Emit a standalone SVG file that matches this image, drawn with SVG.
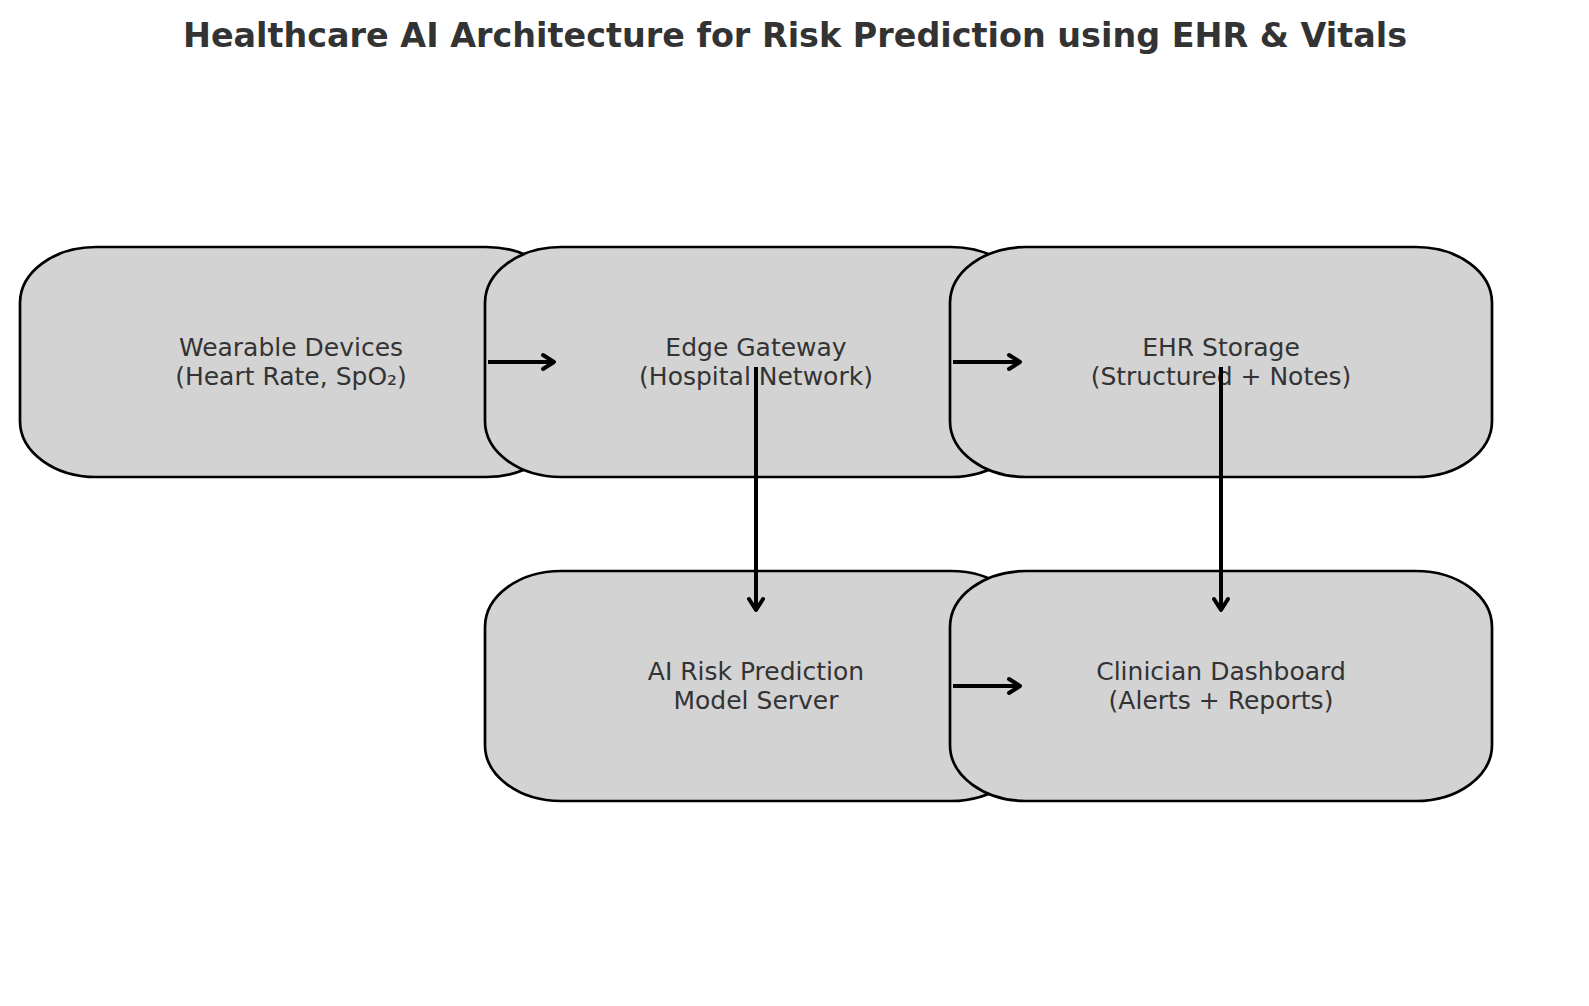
<svg xmlns="http://www.w3.org/2000/svg" width="1589" height="1006" viewBox="0 0 1589 1006">
<style>
.box{fill:#d3d3d3;stroke:#000;stroke-width:2.7}
.lbl{font-family:"DejaVu Sans",sans-serif;font-size:25px;fill:#333;text-anchor:middle}
.title{font-family:"DejaVu Sans",sans-serif;font-size:33.4px;font-weight:bold;fill:#333;text-anchor:middle}
.arr{stroke:#000;stroke-width:4;fill:none}
.head{stroke:#000;stroke-width:4;fill:none;stroke-linecap:round;stroke-linejoin:round}
</style>
<rect width="1589" height="1006" fill="#fff"/>
<text class="title" x="795" y="47">Healthcare AI Architecture for Risk Prediction using EHR &amp; Vitals</text>
<g id="wearable">
<rect class="box" x="20" y="247" width="542" height="230" rx="76" ry="56"/>
<text class="lbl" x="291" y="356">Wearable Devices</text>
<text class="lbl" x="291" y="384.5">(Heart Rate, SpO₂)</text>
</g>
<g id="gateway">
<rect class="box" x="485" y="247" width="542" height="230" rx="76" ry="56"/>
<text class="lbl" x="756" y="356">Edge Gateway</text>
<text class="lbl" x="756" y="384.5">(Hospital Network)</text>
</g>
<g id="ehr">
<rect class="box" x="950" y="247" width="542" height="230" rx="76" ry="56"/>
<text class="lbl" x="1221" y="356">EHR Storage</text>
<text class="lbl" x="1221" y="384.5">(Structured + Notes)</text>
</g>
<g id="model">
<rect class="box" x="485" y="571" width="542" height="230" rx="76" ry="56"/>
<text class="lbl" x="756" y="680">AI Risk Prediction</text>
<text class="lbl" x="756" y="708.5">Model Server</text>
</g>
<g id="dashboard">
<rect class="box" x="950" y="571" width="542" height="230" rx="76" ry="56"/>
<text class="lbl" x="1221" y="680">Clinician Dashboard</text>
<text class="lbl" x="1221" y="708.5">(Alerts + Reports)</text>
</g>
<g id="connectors">
<line class="arr" x1="488" y1="362" x2="553" y2="362"/>
<polyline class="head" points="543,355 554,362 543,369"/>
<line class="arr" x1="953" y1="362" x2="1019" y2="362"/>
<polyline class="head" points="1009,355 1020,362 1009,369"/>
<line class="arr" x1="953" y1="686" x2="1019" y2="686"/>
<polyline class="head" points="1009,679 1020,686 1009,693"/>
<line class="arr" x1="756" y1="367" x2="756" y2="609"/>
<polyline class="head" points="749,599 756,610 763,599"/>
<line class="arr" x1="1221" y1="367" x2="1221" y2="609"/>
<polyline class="head" points="1214,599 1221,610 1228,599"/>
</g>
</svg>
